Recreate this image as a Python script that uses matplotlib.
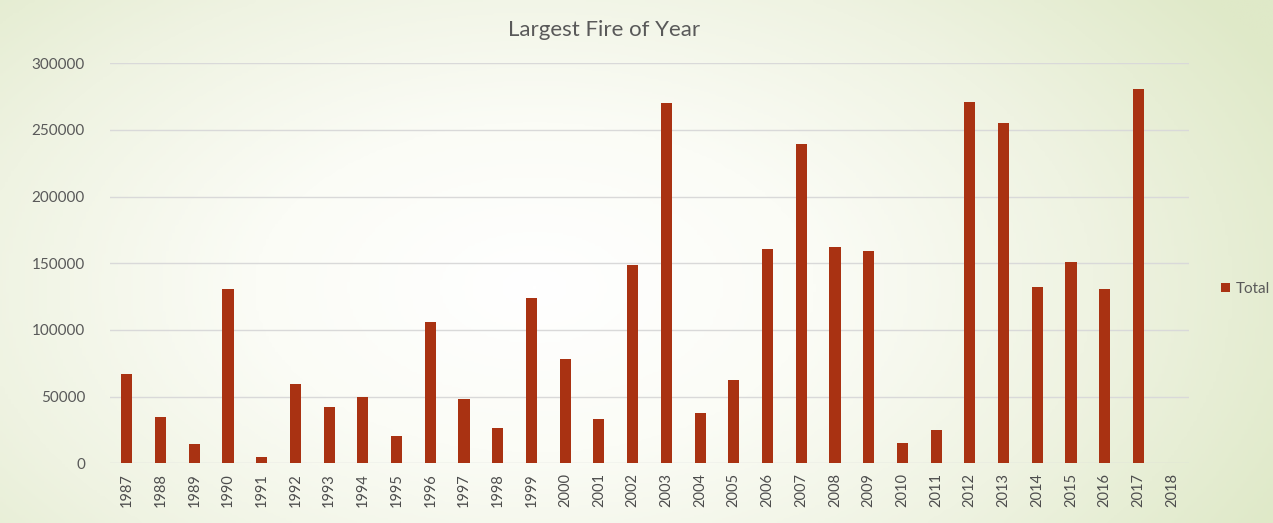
import numpy as np
import matplotlib.pyplot as plt
from matplotlib.colors import LinearSegmentedColormap

# data
years = [str(y) for y in range(1987, 2019)]
acres = [66900, 34900, 14500, 130400, 4500, 59200, 42400, 49500, 20500, 105700,
         48200, 26700, 123700, 78000, 33000, 148700, 270300, 37500, 62400, 160900,
         239400, 162400, 159400, 15200, 25000, 270800, 255300, 131900, 150700, 130900,
         280600, 0]
yticks = [0, 50000, 100000, 150000, 200000, 250000, 300000]

plt.rcParams['font.family'] = ['Lato', 'DejaVu Sans']

W, H = 1273, 523
fig = plt.figure(figsize=(W / 100, H / 100), dpi=100)

# radial background, pale in the middle, green at the edges
bg = fig.add_axes([0, 0, 1, 1], zorder=-10)
gx, gy = np.meshgrid(np.linspace(0, 1, 400), np.linspace(0, 1, 200))
r = np.sqrt(((gx - 0.42) / 0.66) ** 2 + ((gy - 0.55) / 0.95) ** 2)
cmap = LinearSegmentedColormap.from_list('bg', ['#ffffff', '#fbfcf6', '#eff3e2', '#dfe9c8'])
bg.imshow(np.clip(r, 0, 1), cmap=cmap, aspect='auto', extent=[0, 1, 0, 1], vmin=0, vmax=1)
bg.axis('off')

ax = fig.add_axes([110 / W, 1 - 463.3 / H, (1189 - 110) / W, 400 / H])
ax.patch.set_alpha(0)
x = np.arange(len(years))
ax.bar(x, acres, width=0.33, color='#a93212', label='Total', zorder=3)

ax.set_xlim(-0.5, len(years) - 0.5)
ax.set_ylim(0, 300000)
ax.set_yticks(yticks)
ax.set_yticklabels([str(v) for v in yticks], fontsize=11, color='#595959')
ax.set_xticks(x)
ax.set_xticklabels(years, rotation=90, fontsize=10.5, color='#4d4d4d')
ax.tick_params(length=0, pad=7)
ax.tick_params(axis='y', pad=18)
ax.grid(axis='y', color='#d9d9d9', linewidth=1, zorder=0)
for s in ax.spines.values():
    s.set_visible(False)

fig.text(604 / W, 1 - 30 / H, 'Largest Fire of Year', ha='center', va='center',
         fontsize=16, color='#595959')

ax.legend(loc='center left', bbox_to_anchor=(1213 / W, 1 - 289 / H),
          bbox_transform=fig.transFigure, frameon=False, fontsize=11,
          handlelength=0.6, handleheight=0.6, handletextpad=0.4,
          labelcolor='#595959', borderpad=0)

fig.savefig('out.png', dpi=100)
